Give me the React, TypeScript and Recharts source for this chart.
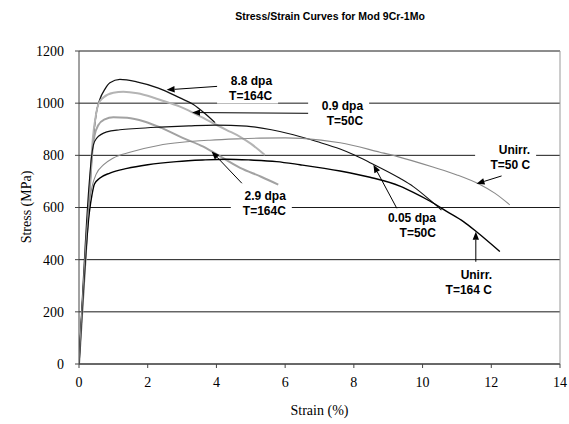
import React from 'react';
import {
  LineChart,
  Line,
  XAxis,
  YAxis,
  CartesianGrid,
  ReferenceLine,
  ReferenceDot,
} from 'recharts';

type Pt = { x: number; y: number };
const toPts = (rows: number[][]): Pt[] => rows.map(([x, y]) => ({ x, y }));

// Axis ticks
const strainTicks = [0, 2, 4, 6, 8, 10, 12, 14];
const stressTicks = [0, 200, 400, 600, 800, 1000, 1200];

// Engineering stress (MPa) vs strain (%) for each test condition
const dpa88T164 = [
  [0, 0], [0.3, 640], [0.37, 790], [0.5, 960], [0.6, 1012], [0.76, 1055], [0.9, 1078],
  [1.19, 1091], [1.68, 1082], [2.31, 1058], [2.94, 1020], [3.33, 995], [3.65, 962], [3.96, 925],
];
const dpa09T50 = [
  [0, 0], [0.3, 640], [0.4, 860], [0.5, 960], [0.56, 995], [0.71, 1022], [1.0, 1040],
  [1.29, 1044], [1.7, 1038], [2.2, 1020], [2.65, 1000], [2.94, 987], [3.4, 958], [3.91, 923],
  [4.3, 897], [4.69, 871], [5.0, 845], [5.41, 801],
];
const dpa29T164 = [
  [0, 0], [0.3, 640], [0.38, 800], [0.45, 875], [0.56, 915], [0.75, 938], [1.0, 946],
  [1.4, 944], [1.9, 930], [2.4, 905], [3.0, 868], [3.62, 833], [3.88, 814], [4.69, 752],
  [5.3, 718], [5.8, 688],
];
const dpa005T50 = [
  [0, 0], [0.3, 700], [0.36, 790], [0.42, 840], [0.51, 865], [0.81, 890], [1.19, 898],
  [1.68, 903], [2.36, 908], [3.2, 913], [3.96, 916], [4.88, 912], [5.6, 898], [6.24, 879],
  [6.92, 853], [7.6, 824], [8.0, 802], [8.47, 772], [9.34, 712], [9.73, 680], [10.22, 628],
  [10.55, 590],
];
const unirrT164 = [
  [0, 0], [0.3, 580], [0.38, 650], [0.45, 690], [0.6, 712], [0.9, 732], [1.4, 750],
  [2.0, 764], [2.84, 776], [3.6, 782], [4.3, 785], [5.0, 782], [5.75, 776], [6.43, 764],
  [7.6, 740], [8.47, 716], [9.34, 682], [9.73, 658], [10.22, 624], [10.7, 585],
  [11.2, 545], [11.57, 507], [12.25, 431],
];
const unirrT50 = [
  [0, 0], [0.3, 620], [0.38, 680], [0.5, 728], [0.71, 763], [1.0, 790], [1.48, 812],
  [2.31, 838], [3.0, 850], [3.81, 858], [4.6, 863], [5.27, 866], [6.0, 867], [6.5, 865],
  [7.6, 848], [8.76, 812], [9.25, 796], [10.3, 755], [11.0, 725], [11.67, 688], [12.1, 655],
  [12.54, 610],
];

// Callout text: label anchor (right edge, vertical centre) and arrow tail -> tip, in data units
const noteLines = [
  ['8.8 dpa', 'T=164C'],
  ['0.9 dpa', 'T=50C'],
  ['2.9 dpa', 'T=164C'],
  ['Unirr.', 'T=50 C'],
  ['0.05 dpa', 'T=50C'],
  ['Unirr.', 'T=164 C'],
];
const noteAnchors = [
  [5.62, 1056], [8.27, 963], [6.02, 617], [13.13, 792], [10.39, 531], [12.02, 312],
];
const arrowTails = [
  [4.2, 1066], [6.87, 961], [4.74, 693], [12.3, 721], [9.25, 597], [11.55, 392],
];
const arrowTips = [
  [2.55, 1051], [3.29, 964], [3.86, 815], [11.57, 691], [8.57, 764], [11.55, 507],
];

const series = [
  { name: '8.8 dpa T=164C', rows: dpa88T164, color: '#111111', width: 1.3 },
  { name: '0.9 dpa T=50C', rows: dpa09T50, color: '#b4b4b4', width: 2 },
  { name: '2.9 dpa T=164C', rows: dpa29T164, color: '#a2a2a2', width: 2 },
  { name: '0.05 dpa T=50C', rows: dpa005T50, color: '#111111', width: 1.1 },
  { name: 'Unirr. T=164 C', rows: unirrT164, color: '#000000', width: 1.4 },
  { name: 'Unirr. T=50 C', rows: unirrT50, color: '#8a8a8a', width: 1.1 },
];

const noteFont = { fontFamily: 'Liberation Sans, Arial, sans-serif', fontWeight: 700, fontSize: 12 };

const ArrowShape = (props: any) => {
  const { x1, y1, x2, y2 } = props;
  const dx = x2 - x1;
  const dy = y2 - y1;
  const len = Math.hypot(dx, dy) || 1;
  const ux = dx / len;
  const uy = dy / len;
  const hl = 8;
  const hw = 3.2;
  const bx = x2 - ux * hl;
  const by = y2 - uy * hl;
  const head = `${x2},${y2} ${bx - uy * hw},${by + ux * hw} ${bx + uy * hw},${by - ux * hw}`;
  return (
    <g>
      <line x1={x1} y1={y1} x2={bx} y2={by} stroke="#000" strokeWidth={1} />
      <polygon points={head} fill="#000" />
    </g>
  );
};

const makeNote = (lines: string[]) => (props: any) => {
  const { cx, cy } = props;
  const step = 15;
  return (
    <g>
      <rect x={cx - 55} y={cy - 14} width={61} height={29} fill="#fff" />
      {lines.map((t, i) => (
        <text
          key={i}
          x={cx}
          y={cy + (i - (lines.length - 1) / 2) * step}
          dy="0.36em"
          textAnchor="end"
          fill="#000"
          {...noteFont}
        >
          {t}
        </text>
      ))}
    </g>
  );
};

export default function App() {
  const W = 569;
  const H = 424;
  return (
    <div style={{ position: 'absolute', left: 0, top: 0, width: W, height: H, background: '#fff' }}>
      <LineChart
        width={W}
        height={H}
        margin={{ top: 51, right: 9, bottom: 0, left: 0 }}
      >
        <CartesianGrid horizontal vertical={false} stroke="#1a1a1a" strokeWidth={1} />
        <XAxis
          type="number"
          dataKey="x"
          domain={[0, 14]}
          ticks={strainTicks}
          allowDataOverflow
          height={60}
          stroke="#444"
          tickSize={4}
          tickMargin={9}
          tick={{ fontFamily: 'Liberation Serif, Times New Roman, serif', fontSize: 14, fill: '#000' }}
        />
        <YAxis
          type="number"
          domain={[0, 1200]}
          ticks={stressTicks}
          allowDataOverflow
          width={79}
          stroke="#444"
          tickSize={4}
          tickMargin={11}
          tick={{ fontFamily: 'Liberation Serif, Times New Roman, serif', fontSize: 14, fill: '#000' }}
        />
        <ReferenceLine x={14} stroke="#999" strokeWidth={1} />
        {series.map((s) => (
          <Line
            key={s.name}
            name={s.name}
            data={toPts(s.rows)}
            dataKey="y"
            type="monotone"
            stroke={s.color}
            strokeWidth={s.width}
            dot={false}
            activeDot={false}
            isAnimationActive={false}
          />
        ))}
        {arrowTails.map((t, i) => (
          <ReferenceLine
            key={`arrow-${i}`}
            segment={[
              { x: t[0], y: t[1] },
              { x: arrowTips[i][0], y: arrowTips[i][1] },
            ]}
            shape={ArrowShape}
          />
        ))}
        {noteAnchors.map((a, i) => (
          <ReferenceDot
            key={`note-${i}`}
            x={a[0]}
            y={a[1]}
            r={0}
            shape={makeNote(noteLines[i])}
          />
        ))}
      </LineChart>
      <svg
        width={W}
        height={H}
        style={{ position: 'absolute', left: 0, top: 0, pointerEvents: 'none' }}
      >
        <text
          x={330}
          y={19.5}
          textAnchor="middle"
          fontFamily="Liberation Sans, Arial, sans-serif"
          fontWeight={700}
          fontSize={10.5}
          fill="#000"
        >
          Stress/Strain Curves for Mod 9Cr-1Mo
        </text>
        <text
          x={319.5}
          y={415}
          textAnchor="middle"
          fontFamily="Liberation Serif, Times New Roman, serif"
          fontSize={14}
          fill="#000"
        >
          Strain (%)
        </text>
        <text
          transform="translate(26,207) rotate(-90)"
          textAnchor="middle"
          dy="0.35em"
          fontFamily="Liberation Serif, Times New Roman, serif"
          fontSize={14}
          fill="#000"
        >
          Stress (MPa)
        </text>
      </svg>
    </div>
  );
}
